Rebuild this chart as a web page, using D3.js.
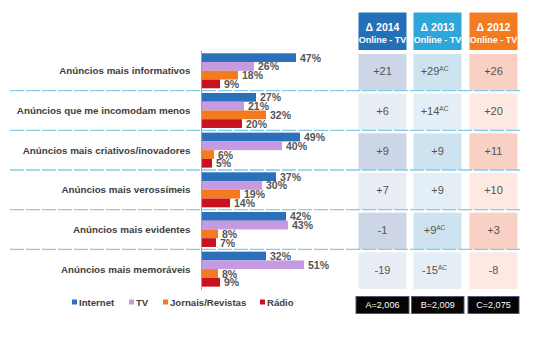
<!DOCTYPE html>
<html lang="pt">
<head>
<meta charset="utf-8">
<script src="https://d3js.org/d3.v7.min.js"></script>
<style>
  body { margin: 0; background: #fff; }
  svg text { font-family: "Liberation Sans", Arial, sans-serif; }
</style>
</head>
<body>
<div id="chart"></div>
<script>
// DATA
const categories = [
  "Anúncios mais informativos",
  "Anúncios que me incomodam menos",
  "Anúncios mais criativos/inovadores",
  "Anúncios mais verossímeis",
  "Anúncios mais evidentes",
  "Anúncios mais memoráveis"
];
const seriesNames = ["Internet", "TV", "Jornais/Revistas", "Rádio"];
const internet = [47, 27, 49, 37, 42, 32];
const tv = [26, 21, 40, 30, 43, 51];
const jornais = [18, 32, 6, 19, 8, 8];
const radio = [9, 20, 5, 14, 7, 9];

const columnHeads = ["2014", "2013", "2012"];
const delta2014 = ["+21", "+6", "+9", "+7", "-1", "-19"];
const delta2013 = ["+29", "+14", "+9", "+9", "+9", "-15"];
const sup2013 = ["AC", "AC", "", "", "AC", "AC"];
const delta2012 = ["+26", "+20", "+11", "+10", "+3", "-8"];
const sampleSizes = ["A=2,006", "B=2,009", "C=2,075"];

// LAYOUT
const w = 550, h = 351;
const seriesColors = ["#2b70b9", "#c59ae0", "#f37a20", "#c8121f"];
const svg = d3.select("#chart").append("svg").attr("width", w).attr("height", h);

const values = [internet, tv, jornais, radio];

const yRow = d3.scaleBand().domain(categories).range([51, 289]);
const ySeries = d3.scaleBand().domain(seriesNames).range([2.3, 37.3]);
const x = d3.scaleLinear().domain([0, 100]).range([202, 402]);

// table columns
const colX = d3.scaleOrdinal().domain(columnHeads).range([358.5, 413.5, 469.5]);
const colW = 48;
const headColors = ["#2470b8", "#2fa6da", "#f47b21"];
const cellDark = ["#cdd6e6", "#cde3f0", "#f9d1c4"];
const cellLight = ["#e8edf5", "#e4eef7", "#fde8e2"];
const deltas = [delta2014, delta2013, delta2012];
const sups = [null, sup2013, null];

// headers
columnHeads.forEach((c, j) => {
  const g = svg.append("g").attr("transform", `translate(${colX(c)},12.5)`);
  g.append("rect").attr("width", colW).attr("height", 37.5).attr("fill", headColors[j]);
  g.append("text").attr("x", colW / 2).attr("y", 18).attr("text-anchor", "middle")
    .attr("fill", "#fff").attr("font-weight", "bold").attr("font-size", 10.5).text("\u0394 " + c);
  g.append("text").attr("x", colW / 2).attr("y", 30.5).attr("text-anchor", "middle")
    .attr("fill", "#fff").attr("font-weight", "bold").attr("font-size", 9).text("Online - TV");
});

// cells
categories.forEach((cat, i) => {
  columnHeads.forEach((c, j) => {
    svg.append("rect")
      .attr("x", colX(c)).attr("y", yRow(cat) + 3)
      .attr("width", colW).attr("height", yRow.bandwidth() - 3)
      .attr("fill", i % 2 === 0 ? cellDark[j] : cellLight[j]);
    const t = svg.append("text")
      .attr("x", colX(c) + colW / 2 + (sups[j] && sups[j][i] ? -3 : 0))
      .attr("y", yRow(cat) + yRow.bandwidth() / 2 + 4.5)
      .attr("text-anchor", "middle").attr("fill", "#555").attr("font-size", 11)
      .text(deltas[j][i]);
    if (sups[j] && sups[j][i]) {
      t.append("tspan").attr("dy", -4).attr("font-size", 6.5).text(sups[j][i]);
    }
  });
});

// separator lines
svg.selectAll("line.sep")
  .data(categories.slice(1))
  .enter().append("line")
  .attr("class", "sep")
  .attr("x1", 10).attr("x2", 520)
  .attr("y1", d => yRow(d)).attr("y2", d => yRow(d))
  .attr("stroke", "#86cbe9").attr("stroke-width", 1.4)
  .attr("stroke-dasharray", "14,2");

// category labels
svg.selectAll("text.cat")
  .data(categories)
  .enter().append("text")
  .attr("class", "cat")
  .attr("x", 190.5)
  .attr("y", d => yRow(d) + yRow.bandwidth() / 2 + 3.5)
  .attr("text-anchor", "end").attr("font-weight", "bold").attr("font-size", 9.8)
  .attr("fill", "#404040")
  .text(d => d);

// bars
const rows = svg.selectAll("g.row")
  .data(categories)
  .enter().append("g")
  .attr("class", "row")
  .attr("transform", d => `translate(0,${yRow(d)})`);

seriesNames.forEach((s, k) => {
  rows.append("rect")
    .attr("x", x(0))
    .attr("y", ySeries(s))
    .attr("width", (d, i) => x(values[k][i]) - x(0))
    .attr("height", ySeries.bandwidth())
    .attr("fill", seriesColors[k]);
  rows.append("text")
    .attr("x", (d, i) => x(values[k][i]) + 4)
    .attr("y", ySeries(s) + ySeries.bandwidth() / 2 + 4)
    .attr("font-weight", "bold").attr("font-size", 10.5).attr("fill", "#555")
    .text((d, i) => values[k][i] + "%");
});

// axis line
svg.append("line")
  .attr("x1", 201.5).attr("x2", 201.5).attr("y1", 51).attr("y2", 290)
  .attr("stroke", "#a0a0a0").attr("stroke-width", 1);

// legend
const legendX = [72, 129, 163, 260];
seriesNames.forEach((s, k) => {
  svg.append("rect").attr("x", legendX[k]).attr("y", 299.5).attr("width", 5).attr("height", 5)
    .attr("fill", seriesColors[k]);
  svg.append("text").attr("x", legendX[k] + 7).attr("y", 305.5)
    .attr("font-weight", "bold").attr("font-size", 9.6).attr("fill", "#404040").text(s);
});

// sample sizes
const boxX = [356, 411.5, 468];
const boxW = [53, 52.5, 51];
sampleSizes.forEach((s, j) => {
  svg.append("rect").attr("x", boxX[j]).attr("y", 296.5).attr("width", boxW[j]).attr("height", 17)
    .attr("fill", "#050505").attr("stroke", "#55557a").attr("stroke-width", 1);
  svg.append("text").attr("x", boxX[j] + boxW[j] / 2).attr("y", 308)
    .attr("text-anchor", "middle").attr("fill", "#fff").attr("font-size", 9).text(s);
});
</script>
</body>
</html>
